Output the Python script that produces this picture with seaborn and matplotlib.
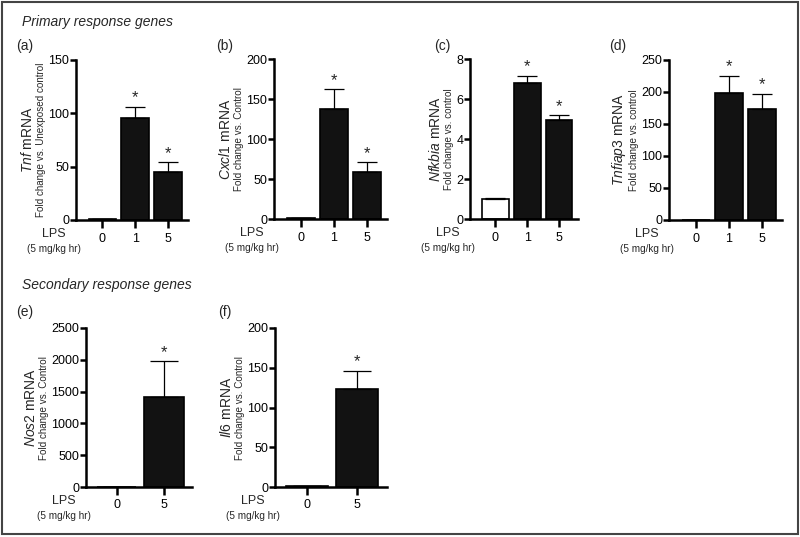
import numpy as np
import matplotlib
matplotlib.use("Agg")
import matplotlib.pyplot as plt
import seaborn as sns
from matplotlib.patches import Rectangle

# ------------------------------------------------------------
# data (mean and upper SEM per LPS dose)
# ------------------------------------------------------------
doses_3 = ["0", "1", "5"]
doses_2 = ["0", "5"]

tnf_mean = [1.0, 96.0, 45.0]
tnf_err = [0.0, 10.0, 9.0]
cxcl1_mean = [1.0, 138.0, 59.0]
cxcl1_err = [0.0, 24.0, 12.0]
nfkbia_mean = [1.0, 6.8, 4.93]
nfkbia_err = [0.03, 0.35, 0.25]
tnfaip3_mean = [0.5, 199.0, 173.0]
tnfaip3_err = [0.0, 26.0, 24.0]
nos2_mean = [1.0, 1410.0]
nos2_err = [0.0, 565.0]
il6_mean = [1.0, 123.0]
il6_err = [0.0, 23.0]

stars_3 = [False, True, True]
stars_2 = [False, True]

sns.set_theme(style="ticks")
plt.rcParams["font.family"] = ["Liberation Sans", "DejaVu Sans"]
plt.rcParams["mathtext.fontset"] = "custom"
plt.rcParams["mathtext.rm"] = "Liberation Sans"
plt.rcParams["mathtext.it"] = "Liberation Sans:italic"

W, H = 800, 537
fig = plt.figure(figsize=(W / 100, H / 100), dpi=100)
fig.patches.append(Rectangle((0.002, 0.006), 0.995, 0.991, transform=fig.transFigure,
                             fill=False, edgecolor="#444444", linewidth=1.5))


def px_axes(left, top, right, bottom):
    return fig.add_axes([left / W, 1 - bottom / H, (right - left) / W, (bottom - top) / H])


def panel(ax, cats, mean, err, stars, ymax, step, fold, letter, letter_xy, xlim, cap):
    colors = {c: ("white" if i == 0 else "#121212") for i, c in enumerate(cats)}
    sns.barplot(x=cats, y=mean, hue=cats, palette=colors, legend=False, ax=ax,
                width=0.84, edgecolor="black", linewidth=1.2, saturation=1)
    pos = np.arange(len(cats))
    ax.errorbar(pos, mean, yerr=[np.zeros(len(err)), err], fmt="none", ecolor="black",
                elinewidth=0.9, capsize=cap, capthick=0.9, zorder=3)
    for x, m, e, s in zip(pos, mean, err, stars):
        if s:
            ax.annotate("*", xy=(x, m + e), xytext=(0, 1), textcoords="offset points",
                        ha="center", va="bottom", fontsize=12)
    ax.set_ylim(0, ymax)
    ax.set_yticks(np.arange(0, ymax + step / 2, step))
    ax.set_xlim(*xlim)
    sns.despine(ax=ax)
    for sp in ("left", "bottom"):
        ax.spines[sp].set_linewidth(1.8)
        ax.spines[sp].set_color("black")
    ax.tick_params(axis="y", length=4, width=1.8, pad=0.8, labelsize=9, colors="black")
    ax.tick_params(axis="x", length=6, width=1.8, pad=3, labelsize=9, colors="black")
    ax.set_xlabel("")
    ax.set_ylabel(fold, fontsize=7.1, labelpad=1.5)
    ax.annotate("LPS", xy=(0, 0), xycoords="axes fraction", xytext=(-22, -14),
                textcoords="offset pixels", ha="center", va="center", fontsize=9)
    ax.annotate("(5 mg/kg hr)", xy=(0, 0), xycoords="axes fraction", xytext=(-22, -29),
                textcoords="offset pixels", ha="center", va="center", fontsize=7.2)
    fig.text(letter_xy[0] / W, 1 - letter_xy[1] / H, letter, ha="center", va="center",
             fontsize=10)


xl3 = (-0.8, 2.6)
xl2 = (-0.65, 1.6)
axes = []

ax_a = px_axes(76, 60, 188, 220)
panel(ax_a, doses_3, tnf_mean, tnf_err, stars_3, 150, 50,
      "Fold change vs. Unexposed control", "(a)", (25, 46), xl3, 7)
axes.append((ax_a, "Tnf"))
ax_b = px_axes(274, 59, 387, 219)
panel(ax_b, doses_3, cxcl1_mean, cxcl1_err, stars_3, 200, 50,
      "Fold change vs. Control", "(b)", (225, 46), xl3, 7)
axes.append((ax_b, "Cxcl1"))
ax_c = px_axes(470, 59, 578, 219)
panel(ax_c, doses_3, nfkbia_mean, nfkbia_err, stars_3, 8, 2,
      "Fold change vs. control", "(c)", (442, 46), xl3, 7)
axes.append((ax_c, "Nfkbia"))
ax_d = px_axes(669, 60, 782, 220)
panel(ax_d, doses_3, tnfaip3_mean, tnfaip3_err, stars_3, 250, 50,
      "Fold change vs. control", "(d)", (618, 46), xl3, 7)
axes.append((ax_d, "Tnfiap3"))

ax_e = px_axes(86, 328, 192, 487)
panel(ax_e, doses_2, nos2_mean, nos2_err, stars_2, 2500, 500,
      "Fold change vs. Control", "(e)", (25, 312), xl2, 10)
axes.append((ax_e, "Nos2"))
ax_f = px_axes(275, 328, 387, 487)
panel(ax_f, doses_2, il6_mean, il6_err, stars_2, 200, 50,
      "Fold change vs. Control", "(f)", (225, 312), xl2, 10)
axes.append((ax_f, "Il6"))

fig.text(22 / W, 1 - 22 / H, "Primary response genes", style="italic", fontsize=10,
         ha="left", va="center")
fig.text(22 / W, 1 - 285 / H, "Secondary response genes", style="italic", fontsize=10,
         ha="left", va="center")

# gene-name line sits just left of the "Fold change" ylabel
fig.canvas.draw()
renderer = fig.canvas.get_renderer()
for ax, gene in axes:
    bb = ax.yaxis.label.get_window_extent(renderer)
    ybb = ax.get_window_extent(renderer)
    fig.text((bb.x0 - 1) / W, (ybb.y0 + ybb.y1) / 2 / H, r"$\mathit{%s}$ mRNA" % gene,
             rotation=90, ha="right", va="center", fontsize=10)

fig.savefig("out.png", dpi=100, facecolor="white")
